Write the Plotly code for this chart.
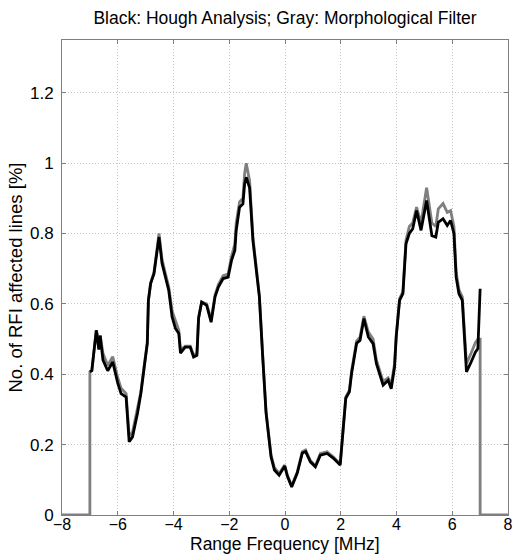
import plotly.graph_objects as go

# Range frequency [MHz]
freq = [-7.0, -6.93, -6.77, -6.68, -6.63, -6.53, -6.36, -6.18, -6.00, -5.88, -5.70, -5.59, -5.47,
        -5.29, -5.17, -5.06, -4.94, -4.90, -4.82, -4.70, -4.58, -4.52, -4.41, -4.17, -4.05, -3.93,
        -3.81, -3.75, -3.58, -3.40, -3.28, -3.16, -3.10, -2.99, -2.81, -2.65, -2.51, -2.39, -2.22,
        -2.04, -1.92, -1.80, -1.75, -1.63, -1.51, -1.45, -1.39, -1.27, -1.15, -1.04, -0.92, -0.80,
        -0.68, -0.50, -0.38, -0.21, -0.01, 0.09, 0.24, 0.44, 0.62, 0.74, 0.91, 1.09, 1.27, 1.51,
        1.74, 1.98, 2.10, 2.18, 2.31, 2.39, 2.57, 2.69, 2.83, 2.99, 3.16, 3.28, 3.52, 3.70, 3.81,
        3.93, 3.99, 4.11, 4.23, 4.34, 4.46, 4.58, 4.72, 4.88, 5.08, 5.27, 5.41, 5.50, 5.67, 5.82,
        5.94, 6.06, 6.14, 6.24, 6.36, 6.51, 6.65, 6.83, 6.92, 7.0]

# Black: Hough analysis
hough = [0.407, 0.41, 0.525, 0.47, 0.51, 0.44, 0.41, 0.435, 0.375, 0.345, 0.335, 0.208, 0.222,
         0.29, 0.346, 0.42, 0.488, 0.61, 0.658, 0.686, 0.752, 0.79, 0.715, 0.638, 0.563, 0.53,
         0.516, 0.46, 0.477, 0.477, 0.449, 0.454, 0.56, 0.605, 0.596, 0.548, 0.62, 0.648, 0.672,
         0.676, 0.723, 0.752, 0.809, 0.875, 0.884, 0.94, 0.96, 0.93, 0.78, 0.704, 0.62, 0.449,
         0.29, 0.165, 0.128, 0.113, 0.139, 0.109, 0.08, 0.119, 0.176, 0.18, 0.151, 0.137, 0.17, 0.175,
         0.161, 0.142, 0.25, 0.332, 0.35, 0.403, 0.488, 0.496, 0.558, 0.506, 0.487, 0.43, 0.369, 0.383, 0.359,
         0.42, 0.506, 0.61, 0.629, 0.771, 0.80, 0.813, 0.865, 0.809, 0.894, 0.794, 0.79, 0.832, 0.842, 0.823,
         0.837, 0.80, 0.676, 0.629, 0.61, 0.407, 0.43, 0.463, 0.473, 0.643]

# Gray: morphological filter
morph = [0.407, 0.41, 0.525, 0.50, 0.51, 0.46, 0.425, 0.45, 0.39, 0.36, 0.345, 0.225, 0.235,
         0.30, 0.35, 0.42, 0.49, 0.61, 0.66, 0.69, 0.76, 0.80, 0.725, 0.648, 0.58, 0.55,
         0.525, 0.47, 0.48, 0.48, 0.455, 0.46, 0.56, 0.605, 0.60, 0.555, 0.625, 0.655, 0.68,
         0.685, 0.735, 0.77, 0.83, 0.89, 0.90, 0.97, 1.0, 0.95, 0.79, 0.71, 0.625, 0.455,
         0.295, 0.17, 0.135, 0.118, 0.142, 0.112, 0.083, 0.122, 0.18, 0.185, 0.155, 0.14, 0.175, 0.18,
         0.165, 0.145, 0.25, 0.335, 0.355, 0.41, 0.495, 0.505, 0.565, 0.52, 0.50, 0.44, 0.38, 0.39, 0.37,
         0.43, 0.51, 0.615, 0.635, 0.78, 0.82, 0.83, 0.875, 0.83, 0.93, 0.83, 0.82, 0.87, 0.885, 0.86,
         0.865, 0.82, 0.69, 0.64, 0.62, 0.43, 0.455, 0.49, 0.50, 0.50]

x_ticks = [-8, -6, -4, -2, 0, 2, 4, 6, 8]
y_ticks = [0, 0.2, 0.4, 0.6, 0.8, 1.0, 1.2]
y_tick_labels = ["0", "0.2", "0.4", "0.6", "0.8", "1", "1.2"]

gray_x = [-8.0, -7.0] + freq + [7.0, 8.0]
gray_y = [0.0, 0.0] + morph + [0.0, 0.0]

fig = go.Figure()
fig.add_trace(go.Scatter(x=gray_x, y=gray_y, mode="lines",
                         line=dict(color="#7f7f7f", width=2.8), showlegend=False))
fig.add_trace(go.Scatter(x=freq, y=hough, mode="lines",
                         line=dict(color="#000000", width=2.8), showlegend=False))

font = "Liberation Sans, Arial, Helvetica, sans-serif"
axis_common = dict(showline=True, mirror="ticks", linecolor="#7f7f7f", linewidth=1,
                   ticks="inside", ticklen=4, tickcolor="#7f7f7f",
                   showgrid=True, gridcolor="#c4c4c4", griddash="1px,2px", gridwidth=1,
                   zeroline=False)

H = 558
T, B = 40, 43
plot_h = H - T - B

fig.update_layout(
    width=519, height=H,
    margin=dict(l=62, r=6, t=T, b=B),
    paper_bgcolor="white", plot_bgcolor="white",
    title=dict(text="Black: Hough Analysis; Gray: Morphological Filter",
               x=0.5, xref="paper", xanchor="center",
               y=1 - 18 / H, yref="container", yanchor="middle",
               font=dict(family=font, size=17.5, color="#000")),
    xaxis=dict(range=[-8, 8], tickmode="array", tickvals=x_ticks,
               ticklabelstandoff=-5, tickfont=dict(family=font, size=16, color="#000"),
               **axis_common),
    yaxis=dict(range=[0, 1.35], tickmode="array", tickvals=y_ticks, ticktext=y_tick_labels,
               ticklabelstandoff=4, tickfont=dict(family=font, size=17, color="#000"),
               title=dict(text="No. of RFI affected lines [%]", standoff=2,
                          font=dict(family=font, size=18.5, color="#000")),
               **axis_common),
    annotations=[dict(text="Range Frequency [MHz]", xref="paper", yref="paper",
                      x=0.5, xanchor="center", y=-(544 - (H - B)) / plot_h, yanchor="middle",
                      showarrow=False, font=dict(family=font, size=17.5, color="#000"))],
)

fig.write_html("out.html")
